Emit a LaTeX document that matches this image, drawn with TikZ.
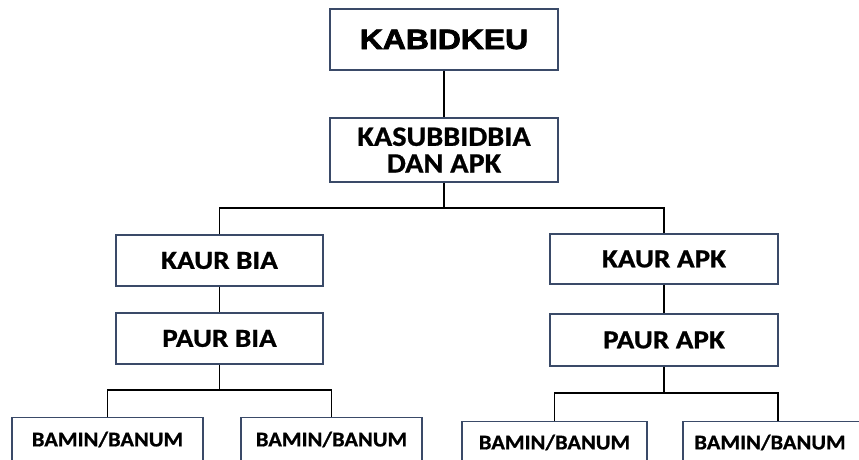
\documentclass[tikz,border=0pt]{standalone}
\usepackage{fontspec}
\setmainfont{Carlito}[BoldFeatures={FakeBold=0.8}]
\newfontfamily\heavyfont{Liberation Sans}[BoldFeatures={FakeBold=2.5}]
\definecolor{boxline}{HTML}{3A4A68}
\newcommand\stretchtext[2]{\scalebox{#1}[1]{#2}}
\begin{document}
\begin{tikzpicture}[x=1pt,y=-1pt,
  orgbox/.style={draw=boxline,line width=1.4pt,fill=white,inner sep=0pt,font=\bfseries},
  subtext/.style={font=\bfseries\fontsize{28}{26.7}\selectfont},
  midtext/.style={font=\bfseries\fontsize{26}{28}\selectfont},
  smalltext/.style={font=\bfseries\fontsize{21}{23}\selectfont},
  link/.style={draw=black,line width=1.3pt}]
\useasboundingbox (0,0) rectangle (859,459);
\clip (0,0) rectangle (859,459);
% boxes
\node[orgbox,minimum width=228pt,minimum height=61pt,font=\heavyfont\bfseries\fontsize{28}{30}\selectfont] (kabid) at (444,39.5) {\stretchtext{1.14}{KABIDKEU}};
\node[orgbox,minimum width=228pt,minimum height=64pt,align=center,subtext] (kasub) at (444,150) {\stretchtext{1.08}{KASUBBIDBIA}\\\stretchtext{1.08}{DAN APK}};
\node[orgbox,minimum width=207pt,minimum height=51pt,midtext] (kaurbia) at (219.5,260.5) {\stretchtext{1.12}{KAUR BIA}};
\node[orgbox,minimum width=228pt,minimum height=50pt,midtext] (kaurapk) at (664,259) {\stretchtext{1.12}{KAUR APK}};
\node[orgbox,minimum width=207pt,minimum height=51pt,midtext] (paurbia) at (219.5,338.5) {\stretchtext{1.12}{PAUR BIA}};
\node[orgbox,minimum width=228pt,minimum height=52pt,midtext] (paurapk) at (664,340) {\stretchtext{1.12}{PAUR APK}};
% bottom boxes (cut by frame)
\node[orgbox,minimum width=191pt,minimum height=50pt,anchor=north] (b1) at (107.5,417) {};
\node[orgbox,minimum width=181pt,minimum height=50pt,anchor=north] (b2) at (331.5,417) {};
\node[orgbox,minimum width=185pt,minimum height=50pt,anchor=north] (b3) at (554.5,421) {};
\node[orgbox,minimum width=190pt,minimum height=50pt,anchor=north] (b4) at (778,421) {};
\node[smalltext] (t1) at (107.5,439.5) {\stretchtext{1.07}{BAMIN/BANUM}};
\node[smalltext] (t2) at (331.5,439.5) {\stretchtext{1.07}{BAMIN/BANUM}};
\node[smalltext] (t3) at (554.5,442.5) {\stretchtext{1.07}{BAMIN/BANUM}};
\node[smalltext] (t4) at (770,442.5) {\stretchtext{1.07}{BAMIN/BANUM}};
% connectors
\draw[link] (kabid.south) -- (kasub.north);
\coordinate (hub1) at (444,208);
\draw[link] (kasub.south) -- (hub1);
\draw[link] (kaurbia.north) |- (hub1) -| (kaurapk.north);
\draw[link] (kaurbia.south) -- (paurbia.north);
\draw[link] (kaurapk.south) -- (paurapk.north);
\coordinate (hub2) at (219.5,390);
\draw[link] (paurbia.south) -- (hub2);
\draw[link] (b1.north) |- (hub2) -| (b2.north);
\coordinate (hub3) at (664,393);
\draw[link] (paurapk.south) -- (hub3);
\draw[link] (b3.north) |- (hub3) -| (b4.north);
\end{tikzpicture}
\end{document}
